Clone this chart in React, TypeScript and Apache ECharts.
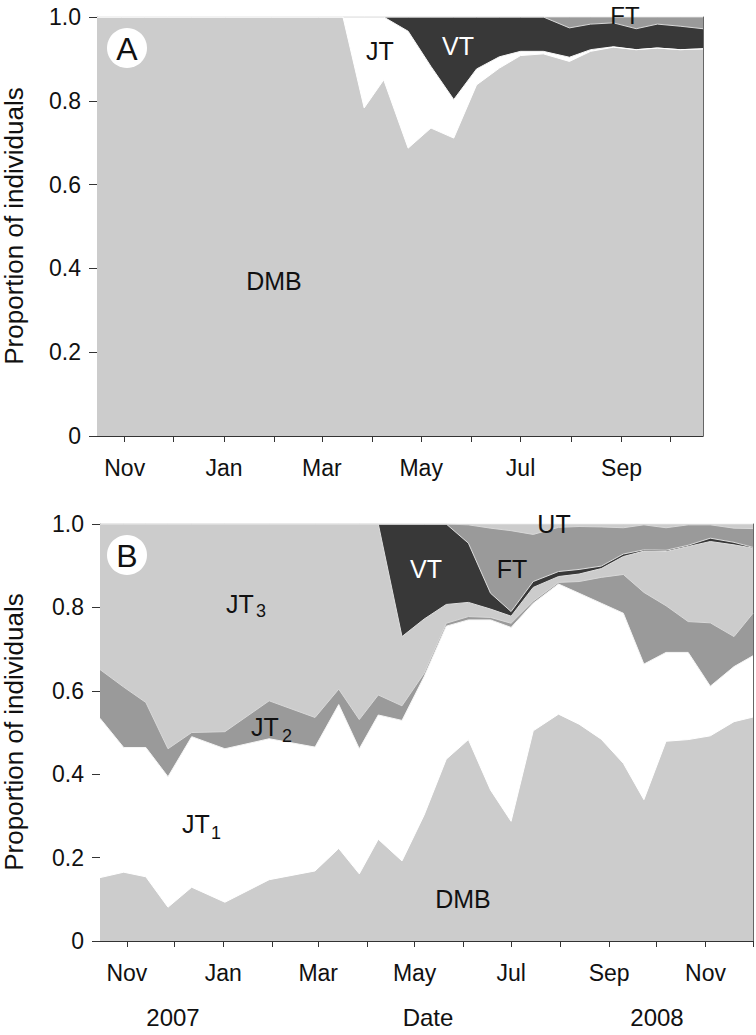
import React, { useEffect, useRef } from 'react';
import * as echarts from 'echarts';

// Sampling dates (panel A ends Oct 2008, panel B runs to Dec 2008)
const datesA = ['2007-10-15','2007-10-30','2007-11-13','2007-11-27','2007-12-12','2008-01-02','2008-01-30','2008-02-28','2008-03-14','2008-03-27','2008-04-08','2008-04-23','2008-05-07','2008-05-21','2008-06-04','2008-06-18','2008-07-01','2008-07-15','2008-07-31','2008-08-13','2008-08-27','2008-09-10','2008-09-23','2008-10-07','2008-10-21'];
const datesB = ['2007-10-15','2007-10-30','2007-11-13','2007-11-27','2007-12-12','2008-01-02','2008-01-30','2008-02-28','2008-03-14','2008-03-27','2008-04-08','2008-04-23','2008-05-07','2008-05-21','2008-06-04','2008-06-18','2008-07-01','2008-07-15','2008-07-31','2008-08-13','2008-08-27','2008-09-10','2008-09-23','2008-10-07','2008-10-21','2008-11-04','2008-11-19','2008-12-01'];

// Panel A: cumulative proportion at the top of each stage (bottom to top)
const aDMB = [1,1,1,1,1,1,1,1,1,0.783,0.850,0.687,0.735,0.711,0.838,0.878,0.908,0.912,0.894,0.918,0.928,0.922,0.926,0.922,0.924];
const aJT  = [1,1,1,1,1,1,1,1,1,1,1,0.966,0.882,0.803,0.876,0.905,0.918,0.918,0.904,0.922,0.929,0.922,0.926,0.922,0.924];
const aVT  = [1,1,1,1,1,1,1,1,1,1,1,1,1,1,1,1,1,1,0.974,0.983,0.986,0.972,0.983,0.978,0.972];
const aFT  = [1,1,1,1,1,1,1,1,1,1,1,1,1,1,1,1,1,1,1,1,1,1,1,1,1];

// Panel B: cumulative proportion at the top of each stage (bottom to top)
const bDMB = [0.152,0.165,0.154,0.081,0.129,0.093,0.147,0.168,0.222,0.161,0.244,0.192,0.302,0.436,0.483,0.362,0.287,0.504,0.544,0.520,0.484,0.426,0.339,0.479,0.483,0.492,0.526,0.537];
const bJT1 = [0.534,0.464,0.464,0.394,0.490,0.461,0.485,0.465,0.567,0.461,0.542,0.529,0.634,0.755,0.770,0.770,0.752,0.810,0.856,0.834,0.810,0.786,0.664,0.692,0.692,0.611,0.658,0.684];
const bJT2 = [0.651,0.609,0.572,0.461,0.500,0.502,0.576,0.536,0.604,0.531,0.590,0.564,0.642,0.762,0.778,0.776,0.762,0.815,0.860,0.862,0.872,0.879,0.836,0.804,0.766,0.763,0.730,0.786];
const bJT3 = [1,1,1,1,1,1,1,1,1,1,1,0.730,0.772,0.807,0.812,0.796,0.779,0.848,0.874,0.880,0.893,0.922,0.935,0.934,0.946,0.958,0.950,0.942];
const bVT  = [1,1,1,1,1,1,1,1,1,1,1,1,1,1,0.954,0.834,0.790,0.862,0.886,0.891,0.899,0.928,0.938,0.937,0.949,0.966,0.956,0.944];
const bFT  = [1,1,1,1,1,1,1,1,1,1,1,1,1,1,0.998,0.990,0.984,0.975,0.992,0.994,0.993,0.991,0.998,0.991,0.998,0.998,0.990,0.989];
const bUT  = [1,1,1,1,1,1,1,1,1,1,1,1,1,1,1,1,1,1,1,1,1,1,1,1,1,1,1,1];

// Axis ticks
const tickMonthsA = ['2007-11-01','2007-12-01','2008-01-01','2008-02-01','2008-03-01','2008-04-01','2008-05-01','2008-06-01','2008-07-01','2008-08-01','2008-09-01','2008-10-01'];
const labelMonthsA = ['2007-11-01','2008-01-01','2008-03-01','2008-05-01','2008-07-01','2008-09-01'];
const tickMonthsB = ['2007-11-01','2007-12-01','2008-01-01','2008-02-01','2008-03-01','2008-04-01','2008-05-01','2008-06-01','2008-07-01','2008-08-01','2008-09-01','2008-10-01','2008-11-01','2008-12-01'];
const labelMonthsB = ['2007-11-01','2008-01-01','2008-03-01','2008-05-01','2008-07-01','2008-09-01','2008-11-01'];
const monthNames = ['Jan','Feb','Mar','Apr','May','Jun','Jul','Aug','Sep','Oct','Nov','Dec'];

const FONT = '"Liberation Sans", Arial, Helvetica, sans-serif';
const LIGHT = '#cccccc';
const MID = '#9a9a9a';
const DARK = '#383838';

// day number (UTC) used as the x value
const DAY = 86400000;
const dn = (s: string) => {
  const [y, m, d] = s.split('-').map(Number);
  return Date.UTC(y, m - 1, d) / DAY;
};

export default function App() {
  const ref = useRef<HTMLDivElement>(null);
  useEffect(() => {
    if (!ref.current) return;
    const chart = echarts.init(ref.current, undefined, { renderer: 'svg' });

    const area = (name: string, dates: string[], vals: number[], color: string, g: number, line = '#e9e9e9') => ({
      name,
      type: 'line',
      xAxisIndex: g,
      yAxisIndex: g,
      data: dates.map((d, i) => [dn(d), vals[i]]),
      symbol: 'none',
      showSymbol: false,
      silent: true,
      lineStyle: { color: line, width: 1 },
      areaStyle: { color, opacity: 1 },
    });

    const xAx = (g: number, dates: string[], ticks: string[], labels: string[]) => ({
      type: 'value',
      gridIndex: g,
      min: dn(dates[0]),
      max: dn(dates[dates.length - 1]),
      axisLine: { show: true, onZero: false, lineStyle: { color: '#333', width: 1 } },
      axisTick: { show: true, length: 6, customValues: ticks.map(dn), lineStyle: { color: '#333' } },
      axisLabel: {
        customValues: labels.map(dn),
        margin: 20,
        fontSize: 23,
        fontFamily: FONT,
        color: '#111',
        formatter: (v: number) => monthNames[new Date(v * DAY).getUTCMonth()],
      },
      splitLine: { show: false },
    });

    const yAx = (g: number) => ({
      type: 'value',
      gridIndex: g,
      min: 0,
      max: 1,
      interval: 0.2,
      axisLine: { show: true, lineStyle: { color: '#333', width: 1 } },
      axisTick: { show: true, length: 8, lineStyle: { color: '#333' } },
      axisLabel: {
        margin: 16,
        fontSize: 23,
        fontFamily: FONT,
        color: '#111',
        formatter: (v: number) => (v === 0 ? '0' : v.toFixed(1)),
      },
      splitLine: { show: false },
    });

    const yRight = (g: number) => ({
      type: 'value',
      gridIndex: g,
      position: 'right',
      min: 0,
      max: 1,
      axisLine: { show: true, lineStyle: { color: '#666', width: 1 } },
      axisTick: { show: false },
      axisLabel: { show: false },
      splitLine: { show: false },
    });

    const txt = (text: string, x: number, y: number, size: number, fill = '#111', extra: any = {}) => ({
      type: 'text',
      x,
      y,
      z: 100,
      silent: true,
      ...extra,
      style: {
        text,
        fill,
        fontSize: size,
        fontFamily: FONT,
        align: 'center',
        verticalAlign: 'middle',
      },
    });

    chart.setOption({
      animation: false,
      backgroundColor: '#ffffff',
      grid: [
        { left: 97, top: 17, width: 606, height: 419 },
        { left: 100, top: 524, width: 653, height: 417 },
      ],
      xAxis: [
        xAx(0, datesA, tickMonthsA, labelMonthsA),
        xAx(1, datesB, tickMonthsB, labelMonthsB),
      ],
      yAxis: [yAx(0), yAx(1), yRight(0), yRight(1)],
      series: [
        area('FT', datesA, aFT, MID, 0, '#d8d8d8'),
        area('VT', datesA, aVT, DARK, 0, '#d8d8d8'),
        area('JT', datesA, aJT, '#ffffff', 0, '#f4f4f4'),
        area('DMB', datesA, aDMB, LIGHT, 0, '#ffffff'),
        area('UT', datesB, bUT, LIGHT, 1, '#e4e4e4'),
        area('FT', datesB, bFT, MID, 1, '#d8d8d8'),
        area('VT', datesB, bVT, DARK, 1, '#dddddd'),
        area('JT3', datesB, bJT3, LIGHT, 1, '#dddddd'),
        area('JT2', datesB, bJT2, MID, 1, '#d8d8d8'),
        area('JT1', datesB, bJT1, '#ffffff', 1, '#f4f4f4'),
        area('DMB', datesB, bDMB, LIGHT, 1, '#ffffff'),
      ],
      graphic: [
        { type: 'circle', z: 99, silent: true, shape: { cx: 127, cy: 48, r: 20 }, style: { fill: '#ffffff' } },
        txt('A', 127, 49, 32),
        txt('JT', 380, 51, 25),
        txt('VT', 458, 46, 25, '#ffffff'),
        txt('FT', 625, 15, 24),
        txt('DMB', 274, 281, 25),
        txt('Proportion of individuals', 14, 226, 26, '#111', { rotation: Math.PI / 2 }),

        { type: 'circle', z: 99, silent: true, shape: { cx: 127, cy: 555, r: 20 }, style: { fill: '#ffffff' } },
        txt('B', 127, 556, 32),
        txt('JT', 240, 604, 25),
        txt('3', 261, 611, 18),
        txt('JT', 265, 727, 25),
        txt('2', 287, 736, 18),
        txt('JT', 196, 824, 25),
        txt('1', 216, 833, 18),
        txt('DMB', 463, 899, 25),
        txt('VT', 426, 569, 25, '#ffffff'),
        txt('FT', 512, 569, 25),
        txt('UT', 554, 524, 25),
        txt('Proportion of individuals', 14, 732, 26, '#111', { rotation: Math.PI / 2 }),
        txt('2007', 173, 1017, 24),
        txt('Date', 428, 1017, 24),
        txt('2008', 657, 1017, 24),
      ],
    });
    return () => chart.dispose();
  }, []);
  return (
    <div
      ref={ref}
      style={{ position: 'absolute', left: 0, top: 0, width: 756, height: 1035, background: '#fff' }}
    />
  );
}
